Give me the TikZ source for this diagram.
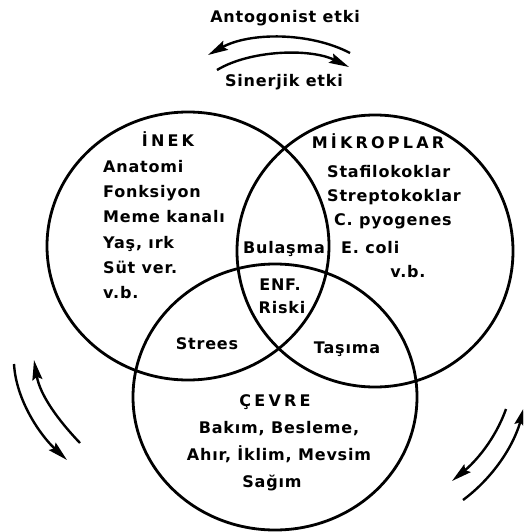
\documentclass[tikz,border=0pt]{standalone}
\usepackage{fontspec}
\setmainfont{DejaVu Sans}[LetterSpace=5]
\newfontfamily\headf{DejaVu Sans}[LetterSpace=20]
\usetikzlibrary{arrows.meta}
\begin{document}
\begin{tikzpicture}[x=1pt,y=-1pt,
  ring/.style={line width=2.8pt},
  arr/.style={line width=2.4pt,-{Stealth[length=20pt,width=10pt,inset=3pt]}},
  txt/.style={font=\fontsize{16}{19}\selectfont\bfseries, inner sep=0pt},
  head/.style={font=\fontsize{16}{19}\selectfont\headf\bfseries, inner sep=0pt},
]
\useasboundingbox (0,0) rectangle (523,532);
\clip (0,0) rectangle (523,532);
% circles
\draw[ring] (188,246) ellipse [x radius=141pt, y radius=134pt];
\draw[ring] (375,251) ellipse [x radius=138pt, y radius=136pt];
\draw[ring] (275,397) ellipse [x radius=142pt, y radius=133pt];
% arrow end points
\coordinate (a1s) at (350,53);  \coordinate (a1e) at (208,55);
\coordinate (a2s) at (217,70);  \coordinate (a2e) at (349,67);
\coordinate (l1s) at (14,364);  \coordinate (l1e) at (67,460);
\coordinate (l2s) at (80,443);  \coordinate (l2e) at (34,360);
\coordinate (r1s) at (506,409); \coordinate (r1e) at (452,481);
\coordinate (r2s) at (463,500); \coordinate (r2e) at (525,406);
\draw[arr] (a1s) .. controls (310,32) and (250,32) .. (a1e);
\draw[arr] (a2s) .. controls (250,50) and (310,48) .. (a2e);
\draw[arr] (l1s) .. controls (16,400) and (40,435) .. (l1e);
\draw[arr] (l2s) .. controls (58,420) and (40,395) .. (l2e);
\draw[arr] (r1s) .. controls (495,440) and (475,462) .. (r1e);
\draw[arr] (r2s) .. controls (490,480) and (512,450) .. (r2e);
% top labels
\node[txt, anchor=base] (anto) at (285,23) {Antogonist etki};
\node[txt, anchor=base] (siner) at (284,87) {Sinerjik etki};
% INEK
\node[head, anchor=base] (inek) at (168,146) {İNEK};
\node[txt, anchor=base west] (i1) at (103,172) {Anatomi};
\node[txt, anchor=base west] (i2) at (103,197) {Fonksiyon};
\node[txt, anchor=base west] (i3) at (103,222) {Meme kanalı};
\node[txt, anchor=base west] (i4) at (103,248) {Yaş, ırk};
\node[txt, anchor=base west] (i5) at (103,273) {Süt ver.};
\node[txt, anchor=base west] (i6) at (103,298) {v.b.};
% MIKROPLAR
\node[head, anchor=base] (mikro) at (378,148) {MİKROPLAR};
\node[txt, anchor=base west] (m1) at (327,177) {Stafilokoklar};
\node[txt, anchor=base west] (m2) at (327,201) {Streptokoklar};
\node[txt, anchor=base west] (m3) at (334,225) {C. pyogenes};
\node[txt, anchor=base west] (m4) at (341,253) {E. coli};
\node[txt, anchor=base] (m5) at (408,277) {v.b.};
% intersections
\node[txt, anchor=base] (bul) at (284,253) {Bulaşma};
\node[txt, anchor=base] (enf) at (280,290) {ENF.};
\node[txt, anchor=base] (risk) at (282,313) {Riski};
\node[txt, anchor=base] (stres) at (207,349) {Strees};
\node[txt, anchor=base] (tas) at (347,353) {Taşıma};
% CEVRE
\node[head, anchor=base] (cevre) at (275,406) {ÇEVRE};
\node[txt, anchor=base] (c1) at (279,433) {Bakım, Besleme,};
\node[txt, anchor=base] (c2) at (279,460) {Ahır, İklim, Mevsim};
\node[txt, anchor=base] (c3) at (272,487) {Sağım};
\end{tikzpicture}
\end{document}
